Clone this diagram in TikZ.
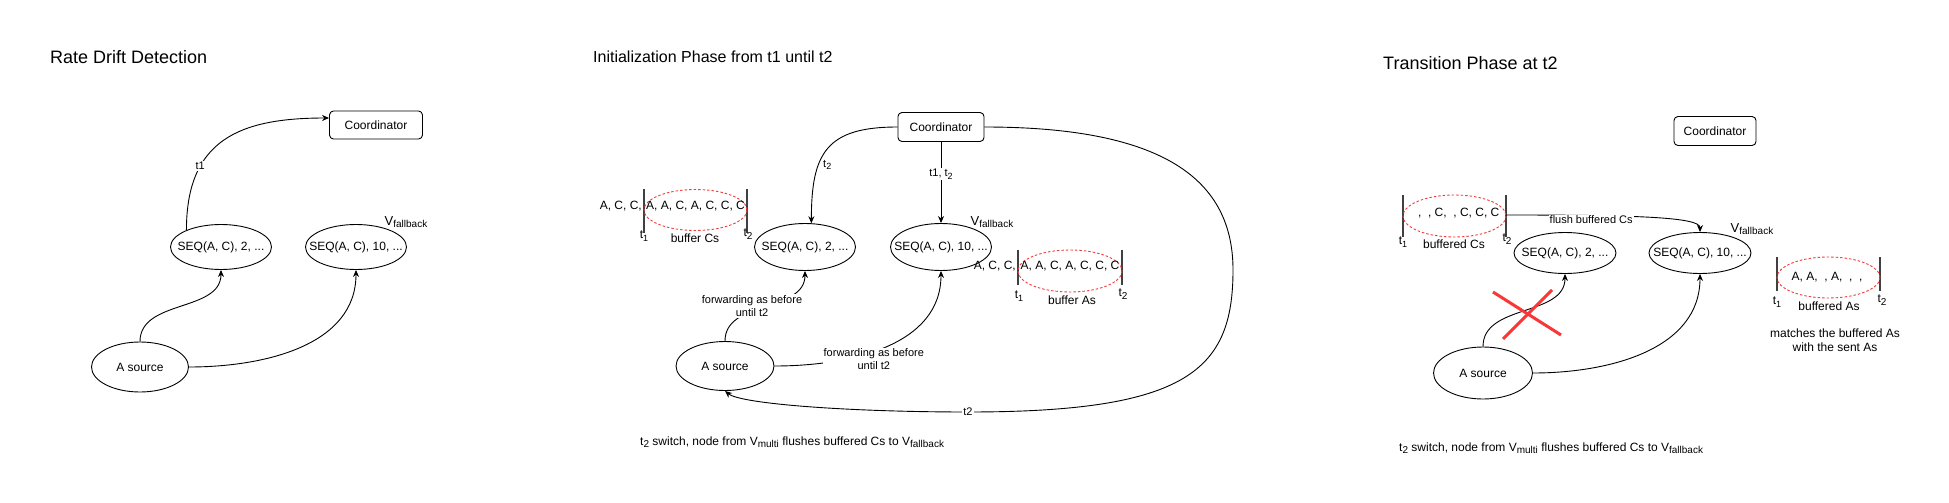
\documentclass[tikz,border=0pt]{standalone}
\definecolor{bufred}{RGB}{240, 60, 60}
\definecolor{crossred}{RGB}{250, 55, 55}
\usepackage{fontspec}
\setmainfont{Liberation Sans}
\usepackage{tikz}
\usetikzlibrary{shapes, arrows.meta, positioning, calc}
\newcommand{\subtxt}[2][9]{\raisebox{-2.5pt}{\fontsize{#1}{#1}\selectfont #2}}

\begin{document}
\begin{tikzpicture}[x=1pt, y=-1pt,
  titletxt/.style={anchor=west, inner sep=0pt, font=\fontsize{18}{22}\selectfont},
  coordbox/.style={draw, rounded corners=4pt, minimum width=86pt, minimum height=29pt, inner sep=0pt, line width=0.9pt, font=\fontsize{12}{14}\selectfont},
  opnode/.style={draw, ellipse, minimum width=101pt, minimum height=46pt, inner xsep=-30pt, inner ysep=0pt, line width=0.9pt, font=\fontsize{12}{14}\selectfont},
  srcnode/.style={opnode, minimum width=98pt, minimum height=50pt},
  txt/.style={inner sep=0pt, font=\fontsize{12}{14}\selectfont},
  vlbl/.style={inner sep=0pt, font=\fontsize{13}{15}\selectfont},
  elbl/.style={inner sep=1pt, font=\fontsize{11}{13}\selectfont},
  elblw/.style={elbl, fill=white},
  arr/.style={-{Stealth[length=7pt, width=6pt]}, line width=0.9pt},
  tickbar/.style={line width=1.3pt, black!75},
  bufell/.style={draw=bufred, dash pattern=on 2.5pt off 2pt, line width=0.9pt},
  redcross/.style={crossred, line width=3pt}
]
  \fill[white] (0,0) rectangle (1949,503);
  \useasboundingbox (0,0) rectangle (1949,503);

  % Panel 1: rate drift detection
  \node[titletxt] (titlea) at (50,57) {Rate Drift Detection};
  \node[coordbox, minimum width=93pt, minimum height=28pt] (coorda) at (376,125) {Coordinator};
  \node[opnode, minimum height=45pt] (seqa1) at (221,247) {SEQ(A, C), 2, ...};
  \node[opnode, minimum height=45pt] (seqa2) at (356,247) {SEQ(A, C), 10, ...};
  \node[vlbl] (vfa) at (406,222) {V\subtxt[10]{fallback}};
  \node[srcnode, minimum width=97pt] (srca) at (140,367) {A source};

  \draw[arr] (seqa1.154) to[out=90, in=180, out distance=90pt, in distance=90pt]
    node[elblw, pos=.3] (t1a) {t1} ([yshift=7pt]coorda.west);
  \draw[arr] (srca.north) to[out=90, in=-90] (seqa1.south);
  \draw[arr] (srca.east) to[out=0, in=-90] (seqa2.south);

  % Panel 2: initialization phase
  \node[titletxt, font=\fontsize{16}{20}\selectfont] (titleb) at (593,57) {Initialization Phase from t1 until t2};
  \node[coordbox] (coordb) at (941,127) {Coordinator};
  \node[opnode, minimum height=47pt] (seqb1) at (805,247) {SEQ(A, C), 2, ...};
  \node[opnode, minimum height=47pt] (seqb2) at (941,247) {SEQ(A, C), 10, ...};
  \node[vlbl] (vfb) at (992,222) {V\subtxt[10]{fallback}};
  \node[srcnode, minimum height=49pt] (srcb) at (725,366) {A source};

  % buffer of Cs
  \node[txt, anchor=east] (prevb1) at (642,206) {A, C, C,};
  \draw[tickbar] (644,189) -- (644,233);
  \draw[tickbar] (747,189) -- (747,233);
  \draw[bufell] (695.5,210) ellipse [x radius=51.5, y radius=20.5];
  \node[txt] (bufb1) at (695.5,206) {A, A, C, A, C, C, C};
  \node[txt] (b1t1) at (644,236) {t\subtxt{1}};
  \node[txt] (b1lbl) at (695,238) {buffer Cs};
  \node[txt] (b1t2) at (748,234) {t\subtxt[10]{2}};

  % buffer of As
  \node[txt, anchor=east] (prevb2) at (1016,266) {A, C, C,};
  \draw[tickbar] (1018,250) -- (1018,285);
  \draw[tickbar] (1122,250) -- (1122,285);
  \draw[bufell] (1070,271) ellipse [x radius=52, y radius=21];
  \node[txt] (bufb2) at (1070,266) {A, A, C, A, C, C, C};
  \node[txt] (b2t1) at (1019,296) {t\subtxt{1}};
  \node[txt] (b2lbl) at (1072,300) {buffer As};
  \node[txt] (b2t2) at (1123,294) {t\subtxt[10]{2}};

  \draw[arr] (coordb.west) to[out=180, in=90, looseness=1.4]
    node[elbl, pos=.65, right=3pt] (t2b) {t\subtxt{2}} (seqb1.75);
  \draw[arr] (coordb.south) -- node[elblw, pos=.4] (t12b) {t1, t\subtxt{2}} (seqb2.north);
  \coordinate (loopr) at (1233,270);
  \coordinate (loopb) at (968,412);
  \draw[arr] (coordb.east) to[out=0, in=90, out distance=180pt, in distance=90pt] (loopr)
    to[out=-90, in=0, out distance=100pt, in distance=220pt] (loopb) node[elblw] (t2loop) {t2}
    to[out=180, in=-40, out distance=120pt, in distance=20pt] (srcb.south);
  \draw[arr] (srcb.north) to[out=90, in=-90]
    node[elblw, align=center, xshift=-13pt] (fwdb1) {forwarding as before\\until t2} (seqb1.south);
  \draw[arr] (srcb.east) to[out=0, in=-90]
    node[elblw, align=center, pos=.44, yshift=-8pt] (fwdb2) {forwarding as before\\until t2} (seqb2.south);

  \node[txt, anchor=west] (capb) at (640,442) {t\subtxt[10]{2} switch, node from V\subtxt[10]{multi} flushes buffered Cs to V\subtxt[10]{fallback}};

  % Panel 3: transition phase
  \node[titletxt] (titlec) at (1383,63) {Transition Phase at t2};
  \node[coordbox, minimum width=82pt] (coordc) at (1715,131) {Coordinator};
  \node[opnode, minimum width=102pt, minimum height=41pt] (seqc1) at (1565,253) {SEQ(A, C), 2, ...};
  \node[opnode, minimum width=102pt, minimum height=41pt] (seqc2) at (1700,253) {SEQ(A, C), 10, ...};
  \node[vlbl] (vfc) at (1752,229) {V\subtxt[10]{fallback}};
  \node[srcnode, minimum width=99pt, minimum height=52pt] (srcc) at (1483,373) {A source};

  % buffered Cs
  \draw[tickbar] (1403,195) -- (1403,237);
  \draw[tickbar] (1506,195) -- (1506,237);
  \draw[bufell] (1454.5,216) ellipse [x radius=51.5, y radius=21];
  \node[txt] (bufc1) at (1457,213) {\ ,\ \ ,\ C,\ \ ,\ C,\ C,\ C};
  \node[txt] (c1t1) at (1403,242) {t\subtxt{1}};
  \node[txt] (c1lbl) at (1454,244) {buffered Cs};
  \node[txt] (c1t2) at (1507,239) {t\subtxt[10]{2}};
  \coordinate (flushs) at (1506,215);

  % buffered As
  \draw[tickbar] (1777,257) -- (1777,291);
  \draw[tickbar] (1880,257) -- (1880,291);
  \draw[bufell] (1828.5,277.5) ellipse [x radius=51.5, y radius=20.5];
  \node[txt] (bufc2) at (1827,277) {A, A,\ \ ,\ A,\ \ ,\ \ ,};
  \node[txt] (c2t1) at (1777,302) {t\subtxt{1}};
  \node[txt] (c2lbl) at (1829,306) {buffered As};
  \node[txt] (c2t2) at (1882,300) {t\subtxt[10]{2}};
  \node[txt, align=center] (matchc) at (1835,340) {matches the buffered As\\with the sent As};

  \draw[arr] (flushs) to[out=0, in=90, out distance=130pt, in distance=15pt]
    node[elblw, pos=.25, yshift=-4pt] (flushc) {flush buffered Cs} (seqc2.north);
  \draw[arr] (srcc.north) to[out=90, in=-90] (seqc1.south);
  \draw[arr] (srcc.east) to[out=0, in=-90] (seqc2.south);
  \draw[redcross] (1493,292) -- (1561,335);
  \draw[redcross] (1552,290) -- (1503,339);

  \node[txt, anchor=west] (capc) at (1399,448) {t\subtxt[10]{2} switch, node from V\subtxt[10]{multi} flushes buffered Cs to V\subtxt[10]{fallback}};
\end{tikzpicture}
\end{document}
